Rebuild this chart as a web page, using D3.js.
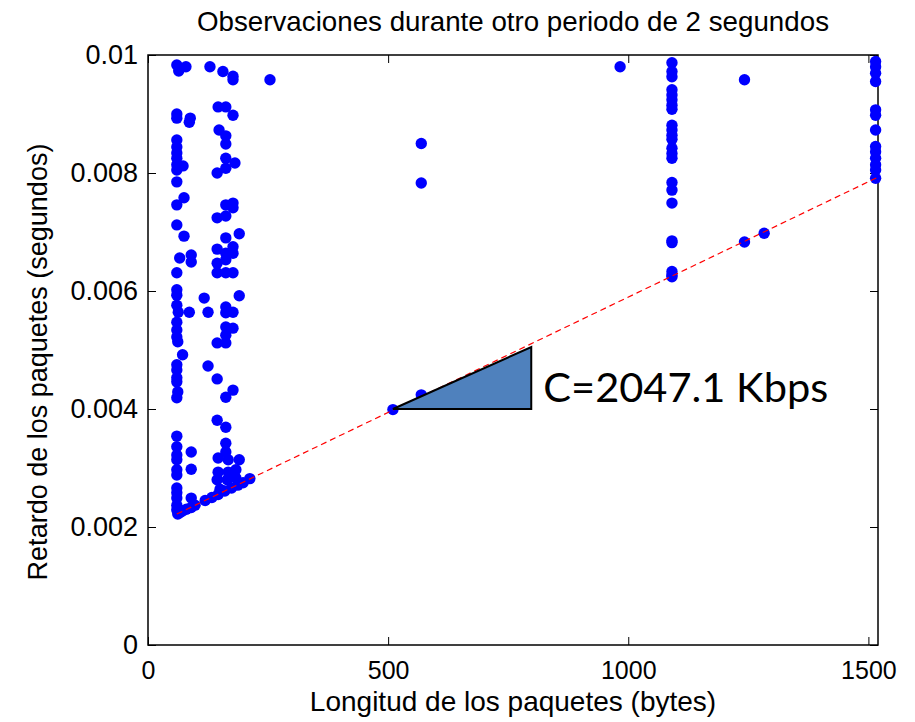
<!DOCTYPE html>
<html>
<head>
<meta charset="utf-8">
<script src="https://cdn.jsdelivr.net/npm/d3@7"></script>
<style>
  body { margin: 0; background: #fff; }
  svg { display: block; }
  text { font-family: "Liberation Sans", Arial, sans-serif; fill: #000; }
</style>
</head>
<body>
<div id="chart"></div>
<script>
// packets with length < 100 bytes: [length, delay]
var shortPkts = [
  [60,0.00983],[64,0.00973],[79,0.00980],
  [60,0.00900],[60,0.00893],[88,0.00893],[86,0.00886],
  [60,0.00856],[60,0.00844],[60,0.00834],[60,0.00825],[60,0.00814],[60,0.00805],[73,0.00812],[60,0.00785],
  [60,0.00746],[75,0.00758],[60,0.00712],[75,0.00693],
  [66,0.00656],[90,0.00661],[90,0.00649],[60,0.00631],
  [60,0.00602],[60,0.00593],[60,0.00576],[63,0.00564],[86,0.00564],
  [60,0.00547],[60,0.00534],[60,0.00522],[62,0.00514],[72,0.00492],
  [60,0.00475],[60,0.00466],[60,0.00453],[60,0.00446],[62,0.00429],[60,0.00419],
  [60,0.00354],[60,0.00336],[90,0.00327],[60,0.00322],[60,0.00314],[60,0.00297],[90,0.00298],
  [60,0.00288],[60,0.00266],[60,0.00258],[60,0.00249],[90,0.00249],[60,0.00237],[60,0.00229],
  [62,0.00222],[66,0.00224],[72,0.00227],[80,0.00230],[90,0.00233],[98,0.00237]
];

// packets between 100 and 260 bytes
var midPkts = [
  [129,0.00980],[156,0.00972],[177,0.00964],[177,0.00958],[254,0.00958],
  [146,0.00912],[162,0.00912],[177,0.00898],
  [148,0.00873],[162,0.00863],[162,0.00849],
  [162,0.00825],[181,0.00817],[162,0.00808],[144,0.00800],
  [162,0.00746],[177,0.00749],[177,0.00741],[144,0.00724],[162,0.00727],
  [190,0.00697],[162,0.00690],
  [144,0.00671],[177,0.00675],[162,0.00664],[177,0.00664],[162,0.00653],
  [144,0.00647],[144,0.00631],[162,0.00631],[177,0.00631],
  [117,0.00588],[190,0.00592],
  [125,0.00564],[162,0.00573],[177,0.00564],[162,0.00563],
  [162,0.00539],[177,0.00537],[162,0.00525],[144,0.00512],[162,0.00512],
  [125,0.00473],[144,0.00451],[177,0.00432],[162,0.00420],
  [144,0.00381],[162,0.00369],[162,0.00342],[162,0.00327],[146,0.00317],[167,0.00314],[190,0.00314],
  [146,0.00293],[167,0.00293],[183,0.00297],[144,0.00280],[165,0.00280],[183,0.00283],[150,0.00264],
  [119,0.00245],[133,0.00250],[146,0.00255],[160,0.00261],[174,0.00266],[187,0.00271],[198,0.00275],[212,0.00282]
];

// scattered larger packets
var otherPkts = [
  [510,0.00399],[569,0.00424],[569,0.00783],[569,0.00850],
  [983,0.00980],[1242,0.00958],[1242,0.00683],[1283,0.00698]
];

// the two columns of large packets
var len1091 = 1091;
var delays1091 = [0.00987,0.00972,0.00963,0.00941,0.00932,0.00924,0.00915,0.00908,
  0.00881,0.00873,0.00864,0.00857,0.00842,0.00833,0.00825,0.00784,0.00771,0.00749,
  0.00685,0.00682,0.00633,0.00627,0.00624];
var len1515 = 1515;
var delays1515 = [0.00989,0.00980,0.00969,0.00955,0.00907,0.00898,0.00873,0.00845,
  0.00836,0.00825,0.00814,0.00805,0.00791];

// fitted min-delay line and slope triangle
var fitLine = [[60,0.00222],[1520,0.00793]];
var slopeTri = [[510,0.00400],[798,0.00400],[798,0.00505]];
var capLabel = "C=2047.1 Kbps";

var xTicks = [0,500,1000,1500];
var xTickLabels = ["0","500","1000","1500"];
var yTicks = [0,0.002,0.004,0.006,0.008,0.01];
var yTickLabels = ["0","0.002","0.004","0.006","0.008","0.01"];

var W = 915, H = 722;
var margin = {left:148, right:37, top:55, bottom:77};

var svg = d3.select("#chart").append("svg")
    .attr("width", W).attr("height", H);

var x = d3.scaleLinear().domain([0,1520]).range([margin.left, W - margin.right]);
var y = d3.scaleLinear().domain([0,0.01]).range([H - margin.bottom, margin.top]);

var allPts = shortPkts.concat(midPkts, otherPkts,
  delays1091.map(function(d){ return [len1091, d]; }),
  delays1515.map(function(d){ return [len1515, d]; }));

// axes, ticks pointing inwards on all four sides
var gx = svg.append("g")
    .attr("transform","translate(0," + y(0) + ")")
    .call(d3.axisBottom(x).tickValues(xTicks)
      .tickFormat(function(d,i){ return xTickLabels[i]; })
      .tickSizeInner(-8).tickSizeOuter(0).tickPadding(16));
gx.selectAll("text").attr("font-size","25px");

var gy = svg.append("g")
    .attr("transform","translate(" + x(0) + ",0)")
    .call(d3.axisLeft(y).tickValues(yTicks)
      .tickFormat(function(d,i){ return yTickLabels[i]; })
      .tickSizeInner(-8).tickSizeOuter(0).tickPadding(10));
gy.selectAll("text").attr("font-size","27px");

svg.append("g")
    .attr("transform","translate(0," + y(0.01) + ")")
    .call(d3.axisTop(x).tickValues(xTicks).tickFormat("").tickSizeInner(-8).tickSizeOuter(0));
svg.append("g")
    .attr("transform","translate(" + x(1520) + ",0)")
    .call(d3.axisRight(y).tickValues(yTicks).tickFormat("").tickSizeInner(-8).tickSizeOuter(0));

svg.selectAll(".domain").remove();
svg.selectAll(".tick line").attr("stroke","#000").attr("stroke-width",1);

svg.append("rect")
    .attr("x", x(0)).attr("y", y(0.01))
    .attr("width", x(1520) - x(0)).attr("height", y(0) - y(0.01))
    .attr("fill","none").attr("stroke","#000").attr("stroke-width",1.5);

// points
svg.append("g").selectAll("circle")
    .data(allPts)
  .enter().append("circle")
    .attr("cx", function(d){ return x(d[0]); })
    .attr("cy", function(d){ return y(d[1]); })
    .attr("r", 5.7)
    .attr("fill","#0000ff");

// red dashed fit
svg.append("path")
    .datum(fitLine)
    .attr("d", d3.line().x(function(d){ return x(d[0]); }).y(function(d){ return y(d[1]); }))
    .attr("fill","none").attr("stroke","#ff0000").attr("stroke-width",1.2)
    .attr("stroke-dasharray","6,4");

// slope triangle
svg.append("path")
    .datum(slopeTri)
    .attr("d", d3.line().x(function(d){ return x(d[0]); }).y(function(d){ return y(d[1]); }).curve(d3.curveLinearClosed))
    .attr("fill","#4f81bd").attr("stroke","#000").attr("stroke-width",2);

svg.append("text")
    .attr("x", x(798) + 12).attr("y", 402)
    .attr("font-size","41px")
    .attr("textLength", 285).attr("lengthAdjust","spacingAndGlyphs")
    .style("font-family","Lato, 'Open Sans', sans-serif")
    .text(capLabel);

// title and axis labels
svg.append("text")
    .attr("x", (x(0) + x(1520)) / 2).attr("y", 31)
    .attr("text-anchor","middle").attr("font-size","27.5px")
    .attr("textLength", 632).attr("lengthAdjust","spacingAndGlyphs")
    .text("Observaciones durante otro periodo de 2 segundos");

svg.append("text")
    .attr("x", (x(0) + x(1520)) / 2).attr("y", 711)
    .attr("text-anchor","middle").attr("font-size","28px")
    .text("Longitud de los paquetes (bytes)");

svg.append("text")
    .attr("transform","translate(47," + ((y(0) + y(0.01)) / 2 + 12) + ") rotate(-90)")
    .attr("text-anchor","middle").attr("font-size","27px")
    .text("Retardo de los paquetes (segundos)");
</script>
</body>
</html>
